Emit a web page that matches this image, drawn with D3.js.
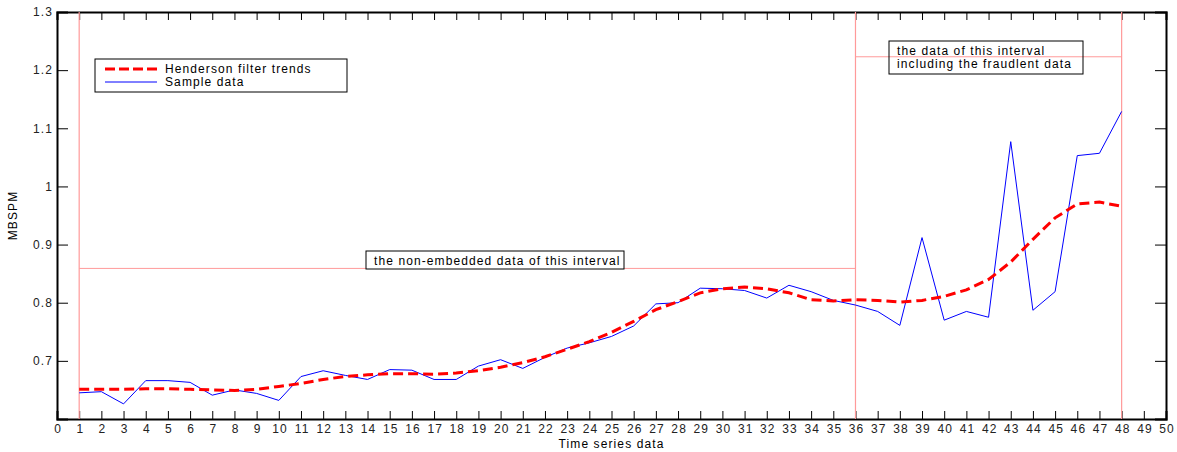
<!DOCTYPE html>
<html>
<head>
<meta charset="utf-8">
<script src="https://cdn.jsdelivr.net/npm/d3@7"></script>
<style>
  body { margin: 0; background: #fff; }
  text { font-family: "Liberation Sans", Arial, sans-serif; letter-spacing: 1.1px; }
</style>
</head>
<body>
<svg id="chart"></svg>
<script>
const w = 1177;
const h = 452;
const margin = {top: 12, right: 11, bottom: 33, left: 57};

// x positions 1..48
const timeIndex = d3.range(1, 49);
const sampleData = [0.645, 0.647, 0.626, 0.666, 0.666, 0.663, 0.641, 0.650, 0.644, 0.632,
  0.673, 0.683, 0.675, 0.668, 0.685, 0.684, 0.668, 0.668, 0.691, 0.702,
  0.687, 0.706, 0.722, 0.731, 0.742, 0.760, 0.798, 0.800, 0.825, 0.824,
  0.821, 0.808, 0.830, 0.819, 0.804, 0.796, 0.785, 0.761, 0.912, 0.770,
  0.785, 0.775, 1.077, 0.787, 0.819, 1.053, 1.057, 1.129];
const hendersonTrend = [0.651, 0.651, 0.651, 0.652, 0.652, 0.651, 0.650, 0.649, 0.651, 0.656,
  0.661, 0.668, 0.673, 0.676, 0.678, 0.678, 0.677, 0.679, 0.683, 0.689,
  0.697, 0.707, 0.720, 0.733, 0.749, 0.768, 0.788, 0.802, 0.817, 0.824,
  0.827, 0.824, 0.817, 0.805, 0.803, 0.805, 0.804, 0.801, 0.804, 0.811,
  0.822, 0.840, 0.870, 0.909, 0.946, 0.970, 0.973, 0.966];
const xTicks = d3.range(0, 51);
const yTicks = [0.7, 0.8, 0.9, 1, 1.1, 1.2, 1.3];
const intervalBounds = [1, 36, 48];
const intervalLevels = [0.859, 1.223];

const svg = d3.select("#chart").attr("width", w).attr("height", h);
const pw = w - margin.left - margin.right;
const ph = h - margin.top - margin.bottom;
const g = svg.append("g").attr("transform", `translate(${margin.left},${margin.top})`);

const x = d3.scaleLinear().domain([0, 50]).range([0, pw]);
const y = d3.scaleLinear().domain([0.6, 1.3]).range([ph, 0]);

// axes, ticks pointing inward on all four sides
const fmtY = d => d === 1 ? "1" : d3.format(".1f")(d);
g.append("g").attr("transform", `translate(0,${ph})`)
  .call(d3.axisBottom(x).tickValues(xTicks).tickSize(-8).tickPadding(5).tickFormat(d3.format("d")))
  .call(a => a.selectAll("text").attr("font-size", 12).attr("fill", "#222").attr("dx", "0.05em"));
g.append("g")
  .call(d3.axisTop(x).tickValues(xTicks).tickSize(-8).tickFormat(""));
g.append("g")
  .call(d3.axisLeft(y).tickValues(yTicks).tickSize(-11).tickPadding(4).tickFormat(fmtY))
  .call(a => a.selectAll("text").attr("font-size", 12).attr("fill", "#222"));
g.append("g").attr("transform", `translate(${pw},0)`)
  .call(d3.axisRight(y).tickValues(yTicks).tickSize(-11).tickFormat(""));
g.selectAll(".domain").attr("stroke", "#000").attr("stroke-width", 2);
g.selectAll(".tick line").attr("stroke", "#000");

// interval markers
const pink = "#ff9a9a";
g.selectAll(".vbound").data(intervalBounds).enter().append("line")
  .attr("x1", d => x(d)).attr("x2", d => x(d))
  .attr("y1", 0).attr("y2", ph)
  .attr("stroke", pink).attr("stroke-width", 1.2);
g.append("line")
  .attr("x1", x(1)).attr("x2", x(36))
  .attr("y1", y(intervalLevels[0])).attr("y2", y(intervalLevels[0]))
  .attr("stroke", pink);
g.append("line")
  .attr("x1", x(36)).attr("x2", x(48))
  .attr("y1", y(intervalLevels[1])).attr("y2", y(intervalLevels[1]))
  .attr("stroke", pink);

// series
const line = (vals) => d3.line().x((d, i) => x(timeIndex[i])).y(d => y(d))(vals);
g.append("path").attr("d", line(sampleData))
  .attr("fill", "none").attr("stroke", "#0000ff").attr("stroke-width", 1);
g.append("path").attr("d", line(hendersonTrend))
  .attr("fill", "none").attr("stroke", "#ff0000").attr("stroke-width", 3)
  .attr("stroke-dasharray", "10,5");

// annotation boxes
const ann1 = g.append("g").attr("transform", `translate(${366 - margin.left},${251 - margin.top})`);
ann1.append("rect").attr("width", 258).attr("height", 18)
  .attr("fill", "#fff").attr("stroke", "#000");
ann1.append("text").attr("x", 8).attr("y", 14).attr("font-size", 12).text("the non-embedded data of this interval");

const ann2 = g.append("g").attr("transform", `translate(${889 - margin.left},${41 - margin.top})`);
ann2.append("rect").attr("width", 194).attr("height", 33)
  .attr("fill", "none").attr("stroke", "#000");
ann2.append("text").attr("x", 8).attr("y", 14).attr("font-size", 12).text("the data of this interval");
ann2.append("text").attr("x", 8).attr("y", 27).attr("font-size", 12).text("including the fraudlent data");

// legend
const leg = g.append("g").attr("transform", `translate(${95 - margin.left},${59 - margin.top})`);
leg.append("rect").attr("width", 252).attr("height", 33)
  .attr("fill", "#fff").attr("stroke", "#000");
leg.append("line").attr("x1", 10).attr("x2", 62).attr("y1", 10).attr("y2", 10)
  .attr("stroke", "#ff0000").attr("stroke-width", 3).attr("stroke-dasharray", "10,4");
leg.append("line").attr("x1", 10).attr("x2", 62).attr("y1", 23).attr("y2", 23)
  .attr("stroke", "#0000ff");
leg.append("text").attr("x", 70).attr("y", 14).attr("font-size", 12).text("Henderson filter trends");
leg.append("text").attr("x", 70).attr("y", 27).attr("font-size", 12).text("Sample data");

// axis titles
svg.append("text").attr("x", margin.left + pw / 2).attr("y", 448)
  .attr("text-anchor", "middle").attr("font-size", 12).text("Time series data");
svg.append("text").attr("transform", `translate(17,${margin.top + ph / 2}) rotate(-90)`)
  .attr("text-anchor", "middle").attr("font-size", 12).text("MBSPM");
</script>
</body>
</html>
